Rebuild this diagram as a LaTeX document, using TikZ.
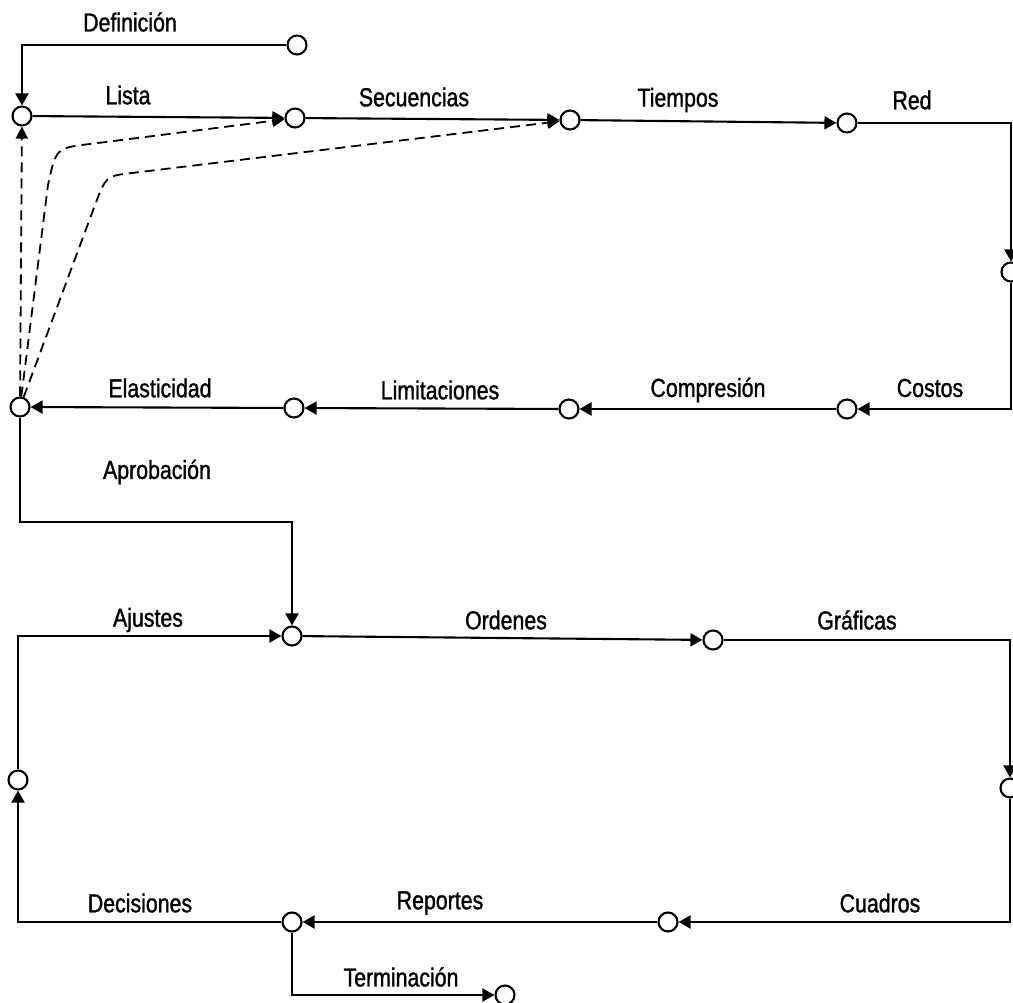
\documentclass[tikz,border=0pt]{standalone}
\usepackage{fontspec}
\setmainfont[FakeStretch=0.82,FakeBold=1.2]{Liberation Sans}
\usetikzlibrary{arrows.meta}
\begin{document}
\begin{tikzpicture}[x=1pt,y=-1pt,
  ev/.style={circle,draw,line width=2.1pt,minimum size=19pt,inner sep=0pt,fill=white},
  flow/.style={line width=2.1pt,-{Triangle[length=12pt,width=13pt]}},
  fb/.style={line width=1.8pt,dash pattern=on 10pt off 6pt,-{Triangle[length=12pt,width=12pt]}},
  lab/.style={font=\fontsize{26}{29}\selectfont,inner sep=0pt}]
\useasboundingbox (0,0) rectangle (1013,1003);
% events
\node[ev] (def) at (297,45) {};
\node[ev] (n1) at (22,116) {};
\node[ev] (n2) at (295,118) {};
\node[ev] (n3) at (570,120) {};
\node[ev] (n4) at (847,123) {};
\node[ev] (n5) at (1011,272) {};
\node[ev] (n6) at (847,409) {};
\node[ev] (n7) at (569,409) {};
\node[ev] (n8) at (294,408) {};
\node[ev] (n9) at (20,407) {};
\node[ev] (n10) at (292,636) {};
\node[ev] (n11) at (713,640) {};
\node[ev] (n12) at (1010,788) {};
\node[ev] (n13) at (668,922) {};
\node[ev] (n14) at (292,922) {};
\node[ev] (n15) at (18,780) {};
\node[ev] (n16) at (505,995) {};
\coordinate (c1) at (20,522);
% solid flow
\draw[flow] (def) -| (n1);
\draw[flow] (n1) -- (n2);
\draw[flow] (n2) -- (n3);
\draw[flow] (n3) -- (n4);
\draw[flow] (n4) -| (n5);
\draw[flow] (n5) |- (n6);
\draw[flow] (n6) -- (n7);
\draw[flow] (n7) -- (n8);
\draw[flow] (n8) -- (n9);
\draw[flow] (n9) -- (c1) -| (n10);
\draw[flow] (n10) -- (n11);
\draw[flow] (n11) -| (n12);
\draw[flow] (n12) |- (n13);
\draw[flow] (n13) -- (n14);
\draw[flow] (n14) -| (n15);
\draw[flow] (n15) |- (n10);
\draw[flow] (n14) |- (n16);
% dashed feedback
\draw[fb] (n9) -- (n1);
\draw[fb] (n9) -- (48,185) .. controls (56,148) .. (90,144) -- (n2);
\draw[fb] (n9) -- (95,205) .. controls (106,176) .. (132,173) -- (n3);
% labels
\node[lab] (tdef) at (130,22) {Definición};
\node[lab] (tlis) at (128,95) {Lista};
\node[lab] (tsec) at (414,97) {Secuencias};
\node[lab] (ttie) at (678,100) {Tiempos};
\node[lab] (tred) at (912,100) {Red};
\node[lab] (tela) at (160,388) {Elasticidad};
\node[lab] (tlim) at (440,390) {Limitaciones};
\node[lab] (tcom) at (708,390) {Compresión};
\node[lab] (tcos) at (930,388) {Costos};
\node[lab] (tapr) at (157,472) {Aprobación};
\node[lab] (taju) at (148,620) {Ajustes};
\node[lab] (tord) at (506,620) {Ordenes};
\node[lab] (tgra) at (857,620) {Gráficas};
\node[lab] (tdec) at (140,903) {Decisiones};
\node[lab] (trep) at (440,903) {Reportes};
\node[lab] (tcua) at (880,903) {Cuadros};
\node[lab] (tter) at (401,977) {Terminación};
\end{tikzpicture}
\end{document}
